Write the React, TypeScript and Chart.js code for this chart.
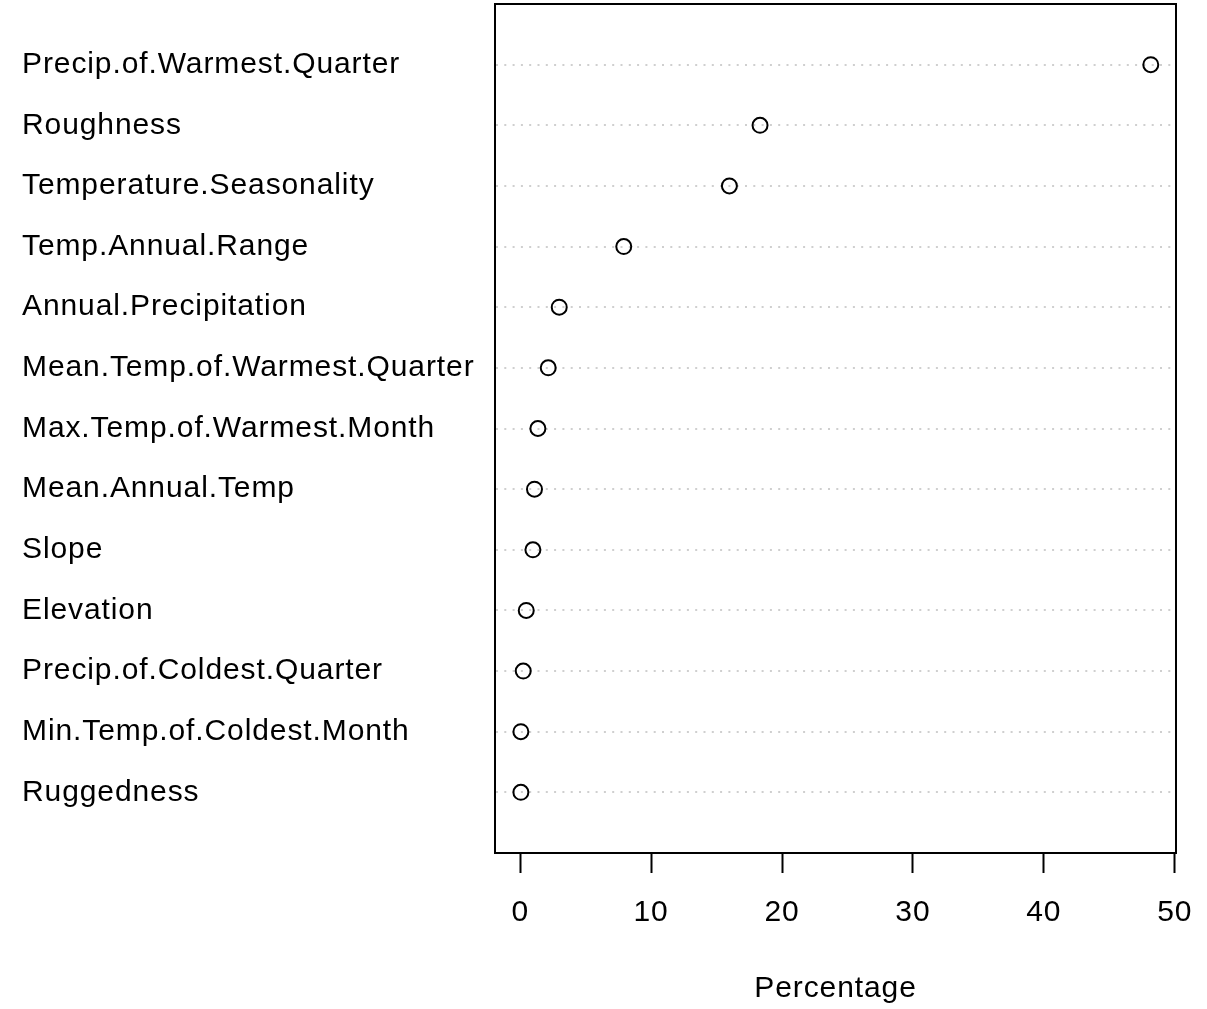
import React, { useEffect, useRef } from "react";
import { Chart, registerables } from "chart.js";

Chart.register(...registerables);

// Variables listed bottom (position 1) to top (position 13)
const variables = [
  "Ruggedness",
  "Min.Temp.of.Coldest.Month",
  "Precip.of.Coldest.Quarter",
  "Elevation",
  "Slope",
  "Mean.Annual.Temp",
  "Max.Temp.of.Warmest.Month",
  "Mean.Temp.of.Warmest.Quarter",
  "Annual.Precipitation",
  "Temp.Annual.Range",
  "Temperature.Seasonality",
  "Roughness",
  "Precip.of.Warmest.Quarter",
];

const percentages = [0.05, 0.05, 0.23, 0.46, 0.97, 1.09, 1.35, 2.14, 2.98, 7.91, 15.98, 18.32, 48.17];

const xTicks = [0, 10, 20, 30, 40, 50];
const xAxisTitle = "Percentage";

const FONT = "'Liberation Sans', Arial, Helvetica, sans-serif";
const FONT_SIZE = 30;
const LETTER_SPACING = "0.9px";

export default function App() {
  const ref = useRef<HTMLCanvasElement | null>(null);

  useEffect(() => {
    if (!ref.current) return;
    const xmin = 0;
    const xmax = Math.max(...percentages);
    const r = xmax - xmin;

    const spacingPlugin = {
      id: "spacing",
      beforeUpdate(chart: any) {
        chart.ctx.letterSpacing = LETTER_SPACING;
      },
      beforeLayout(chart: any) {
        chart.ctx.letterSpacing = LETTER_SPACING;
      },
      beforeDraw(chart: any) {
        chart.ctx.letterSpacing = LETTER_SPACING;
      },
    };

    const boxPlugin = {
      id: "box",
      afterDraw(chart: any) {
        const { ctx, chartArea } = chart;
        ctx.save();
        ctx.strokeStyle = "#000";
        ctx.lineWidth = 2;
        ctx.strokeRect(chartArea.left, chartArea.top, chartArea.right - chartArea.left, chartArea.bottom - chartArea.top);
        ctx.restore();
      },
    };

    const chart = new Chart(ref.current, {
      type: "scatter",
      data: {
        datasets: [
          {
            data: percentages.map((v, i) => ({ x: v, y: i + 1 })),
            pointRadius: 7.5,
            pointHoverRadius: 7.5,
            pointBorderWidth: 2,
            pointBorderColor: "#000",
            pointBackgroundColor: "rgba(0,0,0,0)",
            showLine: false,
          },
        ],
      },
      options: {
        animation: false,
        responsive: false,
        plugins: { legend: { display: false }, tooltip: { enabled: false } },
        layout: { autoPadding: false, padding: { left: 22, top: 4, right: 31, bottom: 0 } },
        scales: {
          x: {
            type: "linear",
            min: xmin - 0.04 * r,
            max: xmax + 0.04 * r,
            afterBuildTicks: (scale: any) => {
              scale.ticks = xTicks.map((v) => ({ value: v }));
            },
            afterFit: (scale: any) => {
              scale.height = 1009 - 853 - 0;
              scale.paddingLeft = 0;
              scale.paddingRight = 0;
            },
            grid: {
              drawOnChartArea: false,
              drawTicks: true,
              tickLength: 20,
              tickWidth: 2,
              tickColor: "#000",
            },
            border: { display: true, color: "#000", width: 2 },
            ticks: {
              color: "#000",
              font: { family: FONT, size: FONT_SIZE },
              padding: 22,
              maxRotation: 0,
              autoSkip: false,
            },
            title: {
              display: true,
              text: xAxisTitle,
              color: "#000",
              font: { family: FONT, size: FONT_SIZE },
              padding: { top: 0, bottom: 2 },
            },
          },
          y: {
            type: "linear",
            min: 0,
            max: variables.length + 1,
            afterBuildTicks: (scale: any) => {
              scale.ticks = variables.map((_, i) => ({ value: i + 1 }));
            },
            afterFit: (scale: any) => {
              scale.width = 495 - 22;
              scale.paddingTop = 0;
              scale.paddingBottom = 0;
            },
            grid: {
              drawTicks: false,
              color: "#cfcfcf",
              lineWidth: 2,
            },
            border: { display: true, color: "#000", width: 2, dash: [2, 6.3] },
            ticks: {
              color: "#000",
              font: { family: FONT, size: FONT_SIZE },
              crossAlign: "far",
              autoSkip: false,
              callback: (v: any) => variables[Number(v) - 1] ?? "",
            },
          },
        },
      },
      plugins: [spacingPlugin, boxPlugin],
    } as any);

    return () => chart.destroy();
  }, []);

  return (
    <div style={{ position: "fixed", left: 0, top: 0, width: 1207, height: 1009, background: "#fff" }}>
      <canvas ref={ref} width={1207} height={1009} style={{ width: 1207, height: 1009 }} />
    </div>
  );
}
